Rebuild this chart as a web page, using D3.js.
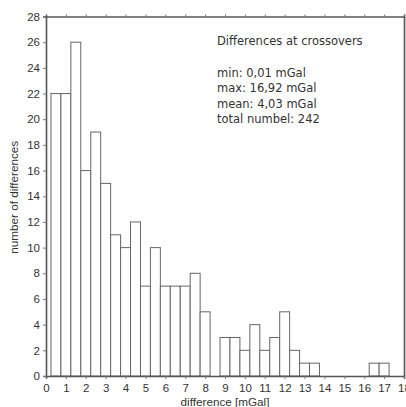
<!DOCTYPE html>
<html>
<head>
<meta charset="utf-8">
<script src="https://cdn.jsdelivr.net/npm/d3@7"></script>
<style>
  body { margin: 0; background: #fff; }
  svg text { font-family: "Liberation Sans", Arial, sans-serif; fill: #333; }
  svg text.info { font-family: "DejaVu Sans", sans-serif; }
</style>
</head>
<body>
<div id="chart"></div>
<script>
// bin centres (mGal) and counts
const binCenters = [0.5, 1, 1.5, 2, 2.5, 3, 3.5, 4, 4.5, 5, 5.5, 6, 6.5, 7, 7.5, 8, 8.5,
    9, 9.5, 10, 10.5, 11, 11.5, 12, 12.5, 13, 13.5, 14, 14.5, 15, 15.5, 16, 16.5, 17];
const counts = [22, 22, 26, 16, 19, 15, 11, 10, 12, 7, 10, 7, 7, 7, 8, 5, 0,
    3, 3, 2, 4, 2, 3, 5, 2, 1, 1, 0, 0, 0, 0, 0, 1, 1];
const xTicks = d3.range(0, 19, 1);
const yTicks = d3.range(0, 29, 2);
const infoLines = ["min: 0,01 mGal", "max: 16,92 mGal", "mean: 4,03 mGal", "total numbel: 242"];

const width = 406, height = 407;
const margin = {top: 16.5, right: 2, bottom: 31, left: 46};
const binWidth = 0.5;

const svg = d3.select("#chart").append("svg")
    .attr("width", width)
    .attr("height", height);

const x = d3.scaleLinear().domain([0, 18]).range([margin.left, width - margin.right]);
const y = d3.scaleLinear().domain([0, 28]).range([height - margin.bottom, margin.top]);

// bars
svg.append("g")
    .selectAll("rect")
    .data(binCenters.map((c, i) => ({c: c, n: counts[i]})).filter(d => d.n > 0))
    .enter()
    .append("rect")
        .attr("x", d => x(d.c - binWidth / 2))
        .attr("y", d => y(d.n))
        .attr("width", d => x(d.c + binWidth / 2) - x(d.c - binWidth / 2))
        .attr("height", d => y(0) - y(d.n))
        .attr("fill", "#fff")
        .attr("stroke", "#666")
        .attr("stroke-width", 1);

// bottom axis
const xAxis = svg.append("g")
    .attr("transform", `translate(0,${y(0)})`)
    .call(d3.axisBottom(x).tickValues(xTicks).tickSize(3).tickPadding(5).tickFormat(d3.format("d")));
// top ticks
const xTop = svg.append("g")
    .attr("transform", `translate(0,${y(28)})`)
    .call(d3.axisTop(x).tickValues(xTicks).tickSize(2).tickFormat(""));
// left axis
const yAxis = svg.append("g")
    .attr("transform", `translate(${x(0)},0)`)
    .call(d3.axisLeft(y).tickValues(yTicks).tickSize(3).tickPadding(3).tickFormat(d3.format("d")));
// right edge
const yRight = svg.append("g")
    .attr("transform", `translate(${x(18)},0)`)
    .call(d3.axisRight(y).tickValues([]).tickSizeOuter(0));

[xAxis, xTop, yAxis, yRight].forEach(g => {
    g.select(".domain").attr("stroke", "#555").attr("stroke-width", 1.6);
    g.selectAll(".tick line").attr("stroke", "#777");
    g.selectAll(".tick text").style("font-size", "11.5px").attr("fill", "#333");
});

// axis titles
svg.append("text")
    .attr("x", (x(0) + x(18)) / 2)
    .attr("y", height - 1)
    .attr("text-anchor", "middle")
    .style("font-size", "11.7px")
    .text("difference [mGal]");

svg.append("text")
    .attr("transform", `translate(18,${y(14) + 1}) rotate(-90)`)
    .attr("text-anchor", "middle")
    .style("font-size", "11.7px")
    .text("number of differences");

// info box text
const info = svg.append("g")
    .attr("transform", "translate(217,0)");
info.append("text")
    .attr("class", "info")
    .attr("y", 45)
    .style("font-size", "11.5px")
    .text("Differences at crossovers");
info.selectAll("text.line")
    .data(infoLines)
    .enter()
    .append("text")
        .attr("class", "info line")
        .attr("y", (d, i) => 77 + i * 15.3)
        .style("font-size", "11.5px")
        .text(d => d);
</script>
</body>
</html>
